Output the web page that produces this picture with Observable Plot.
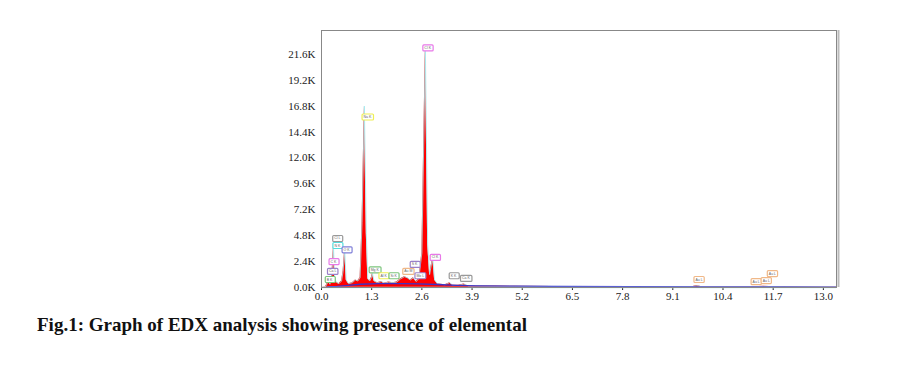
<!DOCTYPE html>
<html>
<head>
<meta charset="utf-8">
<script src="https://cdn.jsdelivr.net/npm/d3@7"></script>
<script src="https://cdn.jsdelivr.net/npm/@observablehq/plot@0.6"></script>
<style>
  body { margin: 0; background: #fff; }
  #caption { font-family: "Liberation Serif", "Times New Roman", serif; font-weight: bold; font-size: 19px; color: #111; padding-left: 37px; margin-top: 4px; }
</style>
</head>
<body>
<div id="chart"></div>
<div id="caption">Fig.1: Graph of EDX analysis showing presence of elemental</div>
<script>
// Spectrum (energy keV, counts)
const energy = [0.00,0.10,0.18,0.22,0.27,0.31,0.34,0.38,0.45,0.52,0.56,0.60,0.64,0.70,0.80,0.88,0.94,1.00,1.05,1.11,1.16,1.20,1.25,1.29,1.32,1.36,1.45,1.55,1.62,1.74,1.85,1.95,2.05,2.15,2.22,2.30,2.38,2.45,2.52,2.60,2.69,2.75,2.80,2.88,2.93,3.00,3.10,3.20,3.32,3.40,3.55,3.69,3.80,4.00,4.50,5.00,6.00,7.00,8.00,9.00,9.60,9.72,9.85,10.5,11.2,11.45,11.6,12.0,13.0,13.34];
const counts = [0,50,600,300,1200,3800,900,500,350,600,1500,3500,700,350,450,700,600,900,6000,16800,5000,800,600,900,1300,600,450,550,400,500,450,500,800,1000,900,700,900,550,800,3200,22300,4000,1200,2800,700,350,300,250,450,200,200,320,150,150,130,120,100,90,80,80,80,180,70,60,60,110,90,60,50,40];
// Background (bremsstrahlung) fit
const bgEnergy = [0.15,0.40,0.70,1.00,1.50,2.00,2.50,3.00,3.50,4.00,5.00,6.00,8.00,10.0,12.0,13.34];
const bgCounts = [50,100,200,300,350,350,330,280,200,150,120,100,80,60,50,40];
// Peak labels
const labelText = ["B K","Ca L","C K","N K","Cl L","O K","Na K","Mg K","Al K","Si K","Au M","S K","Mo L","Cl K","Cl K","K K","Ca K","Au L","Au L","Au L","Au L"];
const labelEnergy = [0.21,0.29,0.31,0.41,0.41,0.65,1.19,1.38,1.61,1.87,2.25,2.41,2.56,2.94,2.75,3.42,3.74,9.78,11.26,11.52,11.68];
const labelCounts = [750,1500,2400,3900,4550,3500,15800,1650,1100,1100,1500,2150,1100,2800,22200,1100,850,750,550,650,1300];
const labelColor = ["#7cc47c","#9a80c8","#e878e8","#55dddd","#999999","#7f7fd8","#eeee55","#7cc47c","#eeee55","#7cc47c","#f0b888","#9a80c8","#9a80c8","#e878e8","#e878e8","#999999","#999999","#f0b888","#f0b888","#f0b888","#f0b888"];
// Ticks
const xTicks = [0.0,1.3,2.6,3.9,5.2,6.5,7.8,9.1,10.4,11.7,13.0];
const yTicks = [0,2400,4800,7200,9600,12000,14400,16800,19200,21600];

const spectrum = energy.map((e,i) => ({e, c: counts[i]}));
const bg = bgEnergy.map((e,i) => ({e, c: bgCounts[i]}));
const labels = labelText.map((t,i) => ({t, e: labelEnergy[i], c: labelCounts[i], col: labelColor[i]}));

const chart = Plot.plot({
  width: 921,
  height: 310,
  marginLeft: 321,
  marginRight: 85,
  marginTop: 30,
  marginBottom: 23,
  style: {fontFamily: "'Liberation Serif', 'Times New Roman', serif", fontSize: "11px", color: "#222"},
  x: {domain: [0, 13.34], ticks: xTicks, tickFormat: d => d.toFixed(1), tickSize: 3, tickPadding: 2, label: null},
  y: {domain: [0, 23800], ticks: yTicks, tickFormat: d => (d/1000).toFixed(1) + "K", tickSize: 0, tickPadding: 6, label: null},
  marks: [
    Plot.areaY(spectrum, {x: "e", y: "c", fill: "#ff0000"}),
    Plot.lineY(spectrum, {x: "e", y: "c", stroke: "#9fe8ee", strokeWidth: 1, strokeOpacity: 0.8}),
    Plot.lineY(bg, {x: "e", y: "c", stroke: "#3a32c8", strokeWidth: 1.3}),
    Plot.ruleY([0], {stroke: "#bfeff2", strokeWidth: 1.5}),
    Plot.ruleX([13.34], {stroke: "#bbbbbb", strokeWidth: 2, dx: 2}),
    Plot.frame({stroke: "#888888", strokeWidth: 1}),
    Plot.text(labels, {x: "e", y: "c", text: "t", fontSize: 3.5, fill: "#666", fontFamily: "sans-serif"})
  ]
});
document.getElementById("chart").append(chart);

// boxes around the peak labels, sized from the rendered text
const texts = chart.querySelectorAll("g[aria-label='text'] text");
texts.forEach((node, i) => {
  const b = node.getBBox();
  const r = document.createElementNS("http://www.w3.org/2000/svg", "rect");
  r.setAttribute("x", b.x - 1.5);
  r.setAttribute("y", b.y - 1);
  r.setAttribute("width", Math.max(b.width + 3, 10));
  r.setAttribute("height", b.height + 2);
  r.setAttribute("rx", 1);
  r.setAttribute("fill", "#fff");
  r.setAttribute("stroke", labels[i].col);
  r.setAttribute("stroke-width", 1.2);
  const tr = node.getAttribute("transform");
  if (tr) r.setAttribute("transform", tr);
  node.parentNode.insertBefore(r, node);
});
</script>
</body>
</html>
